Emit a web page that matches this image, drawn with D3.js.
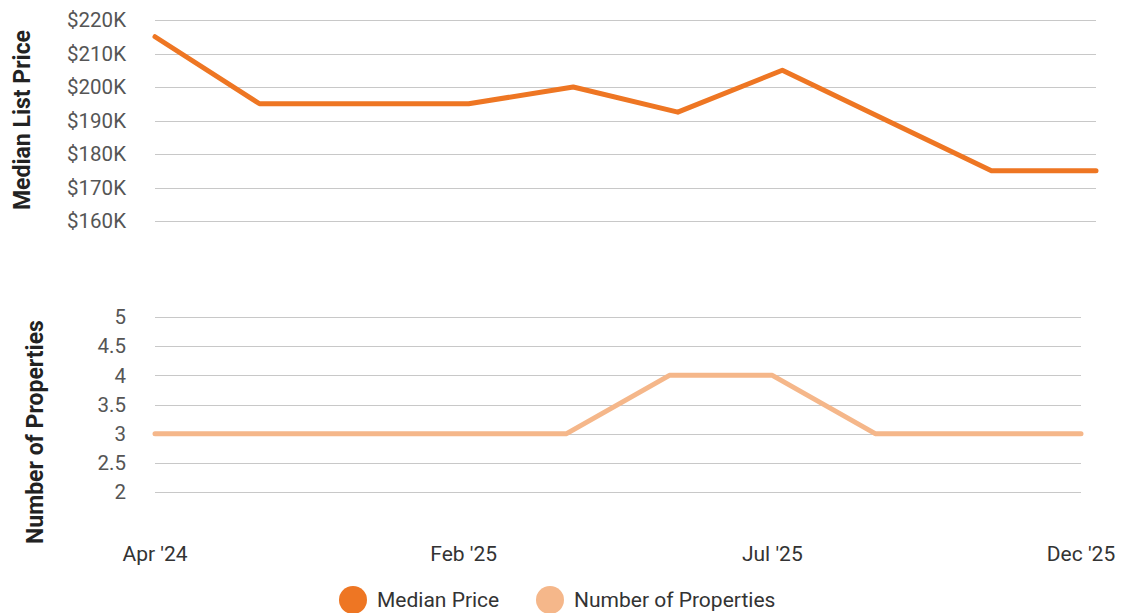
<!DOCTYPE html>
<html>
<head>
<meta charset="utf-8">
<script src="https://cdn.jsdelivr.net/npm/d3@7"></script>
<style>
  body { margin: 0; background: #fff; }
  svg { display: block; font-family: Roboto, sans-serif; }
</style>
</head>
<body>
<script>
const width = 1132
const height = 613

const months = ["Apr '24", "Sep '24", "Dec '24", "Feb '25", "Apr '25", "Jun '25", "Jul '25", "Sep '25", "Nov '25", "Dec '25"]
const shownMonths = ["Apr '24", "Feb '25", "Jul '25", "Dec '25"]
const medianPrice = [215000, 195000, 195000, 195000, 200000, 192500, 205000, 190000, 175000, 175000]
const propertyCount = [3, 3, 3, 3, 3, 4, 4, 3, 3, 3]
const priceTicks = [160000, 170000, 180000, 190000, 200000, 210000, 220000]
const countTicks = [2, 2.5, 3, 3.5, 4, 4.5, 5]

const priceColor = '#ee7623'
const countColor = '#f5b78a'

const svg = d3.select('body').append('svg')
  .attr('width', width)
  .attr('height', height)

// top panel
const xTop = d3.scalePoint().domain(months).range([155, 1096])
const yPrice = d3.scaleLinear().domain([160000, 220000]).range([221, 20])

// bottom panel
const xBottom = d3.scalePoint().domain(months).range([155, 1081])
const yCount = d3.scaleLinear().domain([2, 5]).range([492, 317])

const drawGrid = function (scale, ticks, x0, x1, fmt) {
  const g = svg.append('g')
  g.selectAll('line')
    .data(ticks)
    .enter()
    .append('line')
    .attr('x1', x0)
    .attr('x2', x1)
    .attr('y1', d => Math.round(scale(d)) + 0.5)
    .attr('y2', d => Math.round(scale(d)) + 0.5)
    .attr('stroke', '#c8c8c8')
    .attr('stroke-width', 1)
  g.selectAll('text')
    .data(ticks)
    .enter()
    .append('text')
    .attr('x', 126)
    .attr('y', d => scale(d))
    .attr('dy', '0.35em')
    .attr('text-anchor', 'end')
    .attr('font-size', '20.5px')
    .attr('fill', '#555')
    .text(fmt)
}

drawGrid(yPrice, priceTicks, 155, 1096, d => '$' + d / 1000 + 'K')
drawGrid(yCount, countTicks, 155, 1081, d => d)

const priceLine = d3.line()
  .x((d, i) => xTop(months[i]))
  .y(d => yPrice(d))

const countLine = d3.line()
  .x((d, i) => xBottom(months[i]))
  .y(d => yCount(d))

svg.append('path')
  .datum(medianPrice)
  .attr('d', priceLine)
  .attr('fill', 'none')
  .attr('stroke', priceColor)
  .attr('stroke-width', 5)
  .attr('stroke-linecap', 'round')
  .attr('stroke-linejoin', 'round')

svg.append('path')
  .datum(propertyCount)
  .attr('d', countLine)
  .attr('fill', 'none')
  .attr('stroke', countColor)
  .attr('stroke-width', 5)
  .attr('stroke-linecap', 'round')
  .attr('stroke-linejoin', 'round')

// x labels
svg.selectAll('text.xlabel')
  .data(shownMonths)
  .enter()
  .append('text')
  .attr('class', 'xlabel')
  .attr('x', d => xBottom(d))
  .attr('y', 561)
  .attr('text-anchor', 'middle')
  .attr('font-size', '21px')
  .attr('fill', '#333')
  .text(d => d)

// axis titles
const titles = [
  { text: 'Median List Price', x: 22, y: 120 },
  { text: 'Number of Properties', x: 35, y: 432 }
]
svg.selectAll('text.ytitle')
  .data(titles)
  .enter()
  .append('text')
  .attr('class', 'ytitle')
  .attr('transform', d => `translate(${d.x},${d.y}) rotate(-90)`)
  .attr('dy', '0.35em')
  .attr('text-anchor', 'middle')
  .attr('font-size', '23px')
  .attr('font-weight', 'bold')
  .attr('fill', '#222')
  .text(d => d.text)

// legend
const legend = [
  { name: 'Median Price', color: priceColor, x: 353 },
  { name: 'Number of Properties', color: countColor, x: 550 }
]
const lg = svg.selectAll('g.legend')
  .data(legend)
  .enter()
  .append('g')
  .attr('class', 'legend')
  .attr('transform', d => `translate(${d.x},600)`)
lg.append('circle')
  .attr('r', 14)
  .attr('fill', d => d.color)
lg.append('text')
  .attr('x', 24)
  .attr('dy', '0.35em')
  .attr('font-size', '21px')
  .attr('fill', '#333')
  .text(d => d.name)
</script>
</body>
</html>
